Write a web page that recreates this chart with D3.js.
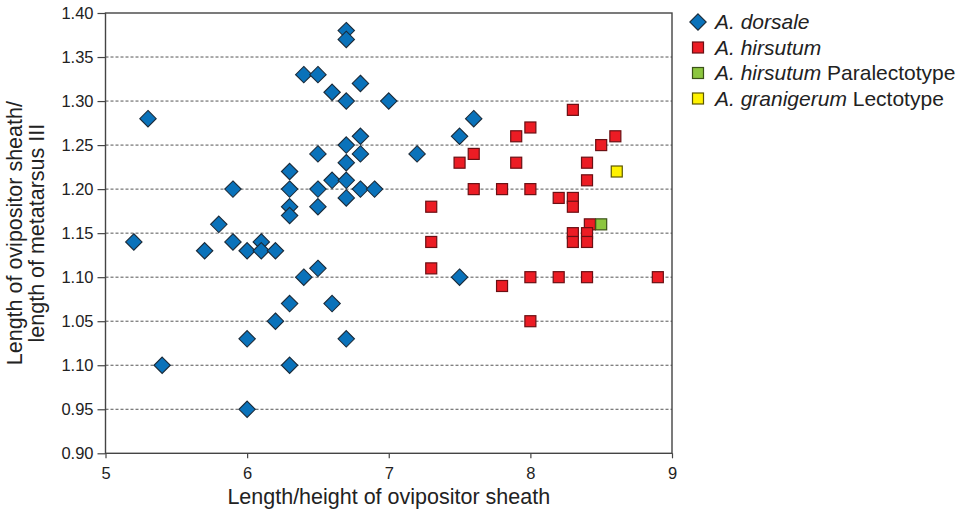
<!DOCTYPE html>
<html>
<head>
<meta charset="utf-8">
<script src="https://cdn.jsdelivr.net/npm/d3@7"></script>
<style>
  html, body { margin: 0; padding: 0; background: #fff; }
  svg { display: block; font-family: "Liberation Sans", Arial, Helvetica, sans-serif; }
  .grid-line { stroke: #555; stroke-width: 1; stroke-dasharray: 3 2; }
  .frame { fill: none; stroke: #444; stroke-width: 1.4; }
  .axis-title { font-size: 21.5px; fill: #222; }
  .legend-text { font-size: 21px; fill: #222; }
</style>
</head>
<body>
<svg id="chart" width="965" height="512"></svg>
<script>
// A. dorsale
const dorsaleX = [5.2, 5.3, 5.4, 5.7, 5.8, 5.9, 5.9, 6.0, 6.0, 6.0, 6.1, 6.1, 6.2, 6.2,
  6.3, 6.3, 6.3, 6.3, 6.3, 6.3, 6.4, 6.4, 6.5, 6.5, 6.5, 6.5, 6.5, 6.6, 6.6, 6.6,
  6.7, 6.7, 6.7, 6.7, 6.7, 6.7, 6.7, 6.7, 6.8, 6.8, 6.8, 6.8, 6.9, 7.0, 7.2, 7.5, 7.6, 7.5];
const dorsaleY = [1.14, 1.28, 1.00, 1.13, 1.16, 1.20, 1.14, 1.13, 1.03, 0.95, 1.14, 1.13, 1.13, 1.05,
  1.22, 1.20, 1.18, 1.17, 1.07, 1.00, 1.33, 1.10, 1.33, 1.24, 1.20, 1.18, 1.11, 1.31, 1.21, 1.07,
  1.38, 1.37, 1.30, 1.25, 1.23, 1.21, 1.19, 1.03, 1.32, 1.26, 1.24, 1.20, 1.20, 1.30, 1.24, 1.26, 1.28, 1.10];

// A. hirsutum
const hirsutumX = [8.3, 8.0, 7.9, 8.6, 8.5, 7.6, 7.5, 7.9, 8.4, 8.4, 7.6, 7.8, 8.0, 8.2, 8.3,
  8.3, 7.3, 8.42, 8.3, 8.4, 8.3, 8.4, 7.3, 7.3, 8.0, 8.2, 8.4, 8.9, 7.8, 8.0];
const hirsutumY = [1.29, 1.27, 1.26, 1.26, 1.25, 1.24, 1.23, 1.23, 1.23, 1.21, 1.20, 1.20, 1.20, 1.19, 1.19,
  1.18, 1.18, 1.16, 1.15, 1.15, 1.14, 1.14, 1.14, 1.11, 1.10, 1.10, 1.10, 1.10, 1.09, 1.05];

// A. hirsutum Paralectotype, A. granigerum Lectotype
const paralectotypeX = [8.5];
const paralectotypeY = [1.16];
const lectotypeX = [8.61];
const lectotypeY = [1.22];

const xTicks = [5, 6, 7, 8, 9];
const yTicks = [1.40, 1.35, 1.30, 1.25, 1.20, 1.15, 1.10, 1.05, 1.00, 0.95, 0.90];
// labels as printed in the figure (the 1.00 position reads "1.10")
const yTickLabels = ["1.40", "1.35", "1.30", "1.25", "1.20", "1.15", "1.10", "1.05", "1.10", "0.95", "0.90"];

const legendItems = [
  { italic: "A. dorsale", plain: "", shape: "diamond", fill: "#0a72ba", stroke: "#1b2a38" },
  { italic: "A. hirsutum", plain: "", shape: "square", fill: "#ec1c24", stroke: "#6a1014" },
  { italic: "A. hirsutum", plain: " Paralectotype", shape: "square", fill: "#8cc63f", stroke: "#3b5218" },
  { italic: "A. granigerum", plain: " Lectotype", shape: "square", fill: "#fff200", stroke: "#5c5700" }
];

const svg = d3.select("#chart");
const plot = { left: 105.5, right: 672, top: 13, bottom: 453.3 };

const x = d3.scaleLinear().domain([5, 9]).range([plot.left, plot.right]);
const y = d3.scaleLinear().domain([0.90, 1.40]).range([plot.bottom, plot.top]);

const gridLayer = svg.append("g").attr("class", "grid");
const axisLayer = svg.append("g").attr("class", "axes");
const pointLayer = svg.append("g").attr("class", "points");
const legendLayer = svg.append("g").attr("class", "legend");

gridLayer.selectAll("line")
  .data(yTicks.filter((d) => d > 0.91 && d < 1.39))
  .join("line")
  .attr("class", "grid-line")
  .attr("x1", plot.left)
  .attr("x2", plot.right)
  .attr("y1", (d) => y(d))
  .attr("y2", (d) => y(d));

const yAxis = d3.axisLeft(y)
  .tickValues(yTicks)
  .tickSize(8)
  .tickPadding(4)
  .tickFormat((d, i) => yTickLabels[i]);

const xAxis = d3.axisBottom(x)
  .tickValues(xTicks)
  .tickSize(5)
  .tickPadding(5)
  .tickFormat(d3.format("d"));

const gy = axisLayer.append("g")
  .attr("transform", `translate(${plot.left},0)`)
  .call(yAxis);
const gx = axisLayer.append("g")
  .attr("transform", `translate(0,${plot.bottom})`)
  .call(xAxis);

[gx, gy].forEach((g) => {
  g.select(".domain").remove();
  g.selectAll(".tick line").attr("stroke", "#444").attr("stroke-width", 1.2);
  g.selectAll(".tick text")
    .attr("fill", "#222")
    .style("font-family", "'Liberation Sans', Arial, Helvetica, sans-serif")
    .style("font-size", "16.5px");
});
gx.selectAll(".tick text").attr("dy", "0.95em");

axisLayer.append("rect")
  .attr("class", "frame")
  .attr("x", plot.left)
  .attr("y", plot.top)
  .attr("width", plot.right - plot.left)
  .attr("height", plot.bottom - plot.top);

axisLayer.append("text")
  .attr("class", "axis-title")
  .attr("x", (plot.left + plot.right) / 2)
  .attr("y", 504)
  .attr("text-anchor", "middle")
  .text("Length/height of ovipositor sheath");

const yTitle = axisLayer.append("text")
  .attr("class", "axis-title")
  .attr("transform", `translate(0,${(plot.top + plot.bottom) / 2}) rotate(-90)`)
  .attr("text-anchor", "middle");
yTitle.append("tspan").attr("x", 0).attr("y", 22).text("Length of ovipositor sheath/");
yTitle.append("tspan").attr("x", 0).attr("y", 44).text("length of metatarsus III");

// markers
const diamond = (s) => `M0,${-s}L${s},0L0,${s}L${-s},0Z`;
const DIAMOND = 8.2;
const SQUARE = 11;

const dorsale = d3.zip(dorsaleX, dorsaleY);
const hirsutum = d3.zip(hirsutumX, hirsutumY);
const paralectotype = d3.zip(paralectotypeX, paralectotypeY);
const lectotype = d3.zip(lectotypeX, lectotypeY);

pointLayer.append("g").selectAll("path")
  .data(dorsale)
  .join("path")
  .attr("d", diamond(DIAMOND))
  .attr("transform", (d) => `translate(${x(d[0])},${y(d[1])})`)
  .attr("fill", legendItems[0].fill)
  .attr("stroke", legendItems[0].stroke)
  .attr("stroke-width", 1.1);

function drawSquares(data, item) {
  pointLayer.append("g").selectAll("rect")
    .data(data)
    .join("rect")
    .attr("x", (d) => x(d[0]) - SQUARE / 2)
    .attr("y", (d) => y(d[1]) - SQUARE / 2)
    .attr("width", SQUARE)
    .attr("height", SQUARE)
    .attr("fill", item.fill)
    .attr("stroke", item.stroke)
    .attr("stroke-width", 1.2);
}
drawSquares(hirsutum, legendItems[1]);
drawSquares(paralectotype, legendItems[2]);
drawSquares(lectotype, legendItems[3]);

// legend
const rows = legendLayer.selectAll("g")
  .data(legendItems)
  .join("g")
  .attr("transform", (d, i) => `translate(698,${22 + i * 25.5})`);

rows.filter((d) => d.shape === "diamond")
  .append("path")
  .attr("d", diamond(8.2))
  .attr("fill", (d) => d.fill)
  .attr("stroke", (d) => d.stroke)
  .attr("stroke-width", 1.1);

rows.filter((d) => d.shape === "square")
  .append("rect")
  .attr("x", -5.5)
  .attr("y", -5.5)
  .attr("width", 11)
  .attr("height", 11)
  .attr("fill", (d) => d.fill)
  .attr("stroke", (d) => d.stroke)
  .attr("stroke-width", 1.2);

const labels = rows.append("text")
  .attr("class", "legend-text")
  .attr("x", 17)
  .attr("y", 7);
labels.append("tspan").style("font-style", "italic").text((d) => d.italic);
labels.append("tspan").text((d) => d.plain);
</script>
</body>
</html>
